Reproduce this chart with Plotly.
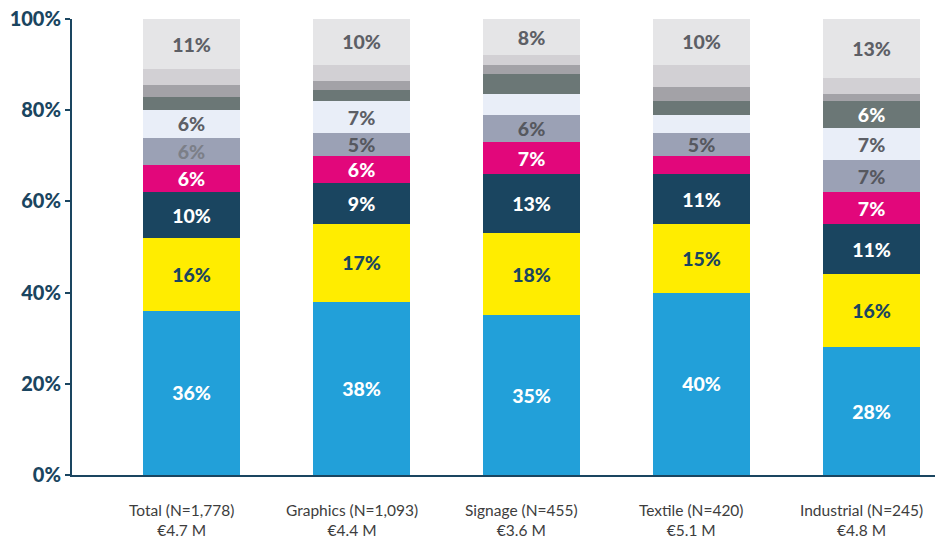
import plotly.graph_objects as go

# Categories (two-line labels under each bar)
categories = ["Total", "Graphics", "Signage", "Textile", "Industrial"]
tick_labels = [
    "Total (N=1,778)<br>€4.7 M",
    "Graphics (N=1,093)<br>€4.4 M",
    "Signage (N=455)<br>€3.6 M",
    "Textile (N=420)<br>€5.1 M",
    "Industrial (N=245)<br>€4.8 M",
]

# Stacked shares in percent, bottom segment first
seg1 = [36, 38, 35, 40, 28]
seg2 = [16, 17, 18, 15, 16]
seg3 = [10, 9, 13, 11, 11]
seg4 = [6, 6, 7, 4, 7]
seg5 = [6, 5, 6, 5, 7]
seg6 = [6, 7, 4.5, 4, 7]
seg7 = [3, 2.5, 4.5, 3, 6]
seg8 = [2.5, 2, 2, 3, 1.5]
seg9 = [3.5, 3.5, 2, 5, 3.5]
seg10 = [11, 10, 8, 10, 13]

# Which segments carry a value label (True = labelled)
lab1 = [True] * 5
lab2 = [True] * 5
lab3 = [True] * 5
lab4 = [True, True, True, False, True]
lab5 = [True] * 5
lab6 = [True, True, False, False, True]
lab7 = [False, False, False, False, True]
lab8 = [False] * 5
lab9 = [False] * 5
lab10 = [True] * 5

series = [seg1, seg2, seg3, seg4, seg5, seg6, seg7, seg8, seg9, seg10]
labelled = [lab1, lab2, lab3, lab4, lab5, lab6, lab7, lab8, lab9, lab10]

fills = ["#22a0d9", "#ffed00", "#1a4560", "#e2077b", "#9ba1b5",
         "#e9eef8", "#6b7776", "#a3a2a7", "#d2d0d4", "#e5e5e7"]
text_colors = [
    ["#ffffff"] * 5,
    ["#1a4560"] * 5,
    ["#ffffff"] * 5,
    ["#ffffff"] * 5,
    ["#7c7f88", "#56585f", "#56585f", "#56585f", "#56585f"],
    ["#5d5f66"] * 5,
    ["#ffffff"] * 5,
    ["#ffffff"] * 5,
    ["#ffffff"] * 5,
    ["#5d5f66"] * 5,
]

NAVY = "#1a4560"
x_pos = list(range(len(categories)))

fig = go.Figure()
for i, (vals, labs) in enumerate(zip(series, labelled)):
    fig.add_trace(go.Bar(
        x=x_pos,
        y=vals,
        name=f"Segment {i + 1}",
        marker=dict(color=fills[i], line=dict(width=0)),
        width=0.57,
        text=[f"{v:.0f}%" if s else "" for v, s in zip(vals, labs)],
        textposition="inside",
        insidetextanchor="middle",
        textangle=0,
        textfont=dict(family="Lato", size=19.5, color=text_colors[i], weight=900),
        hoverinfo="skip",
        showlegend=False,
    ))

# Category captions under the baseline, set slightly left of each bar centre
for xp, lbl in zip(x_pos, tick_labels):
    fig.add_annotation(
        x=xp, y=0, xref="x", yref="y",
        text=lbl,
        showarrow=False,
        xanchor="center", yanchor="top",
        xshift=-10, yshift=-24,
        align="center",
        font=dict(family="Lato", size=15.5, color="#3d3d3d"),
    )

fig.update_layout(
    barmode="stack",
    width=947,
    height=539,
    margin=dict(l=72, r=12, t=19, b=64),
    paper_bgcolor="white",
    plot_bgcolor="white",
    uniformtext=dict(minsize=19, mode="show"),
    font=dict(family="Lato"),
    xaxis=dict(
        range=[-0.703, 4.373],
        tickvals=x_pos,
        showticklabels=False,
        showline=True,
        linecolor=NAVY,
        linewidth=2,
        ticks="",
        showgrid=False,
        zeroline=False,
        automargin=False,
        fixedrange=True,
    ),
    yaxis=dict(
        range=[0, 100],
        tickvals=[0, 20, 40, 60, 80, 100],
        ticktext=["0%", "20%", "40%", "60%", "80%", "100%"],
        showline=True,
        linecolor=NAVY,
        linewidth=2,
        ticks="outside",
        ticklen=5,
        tickwidth=2,
        tickcolor=NAVY,
        showgrid=False,
        zeroline=False,
        automargin=False,
        tickfont=dict(family="Lato", size=20, color=NAVY, weight=900),
        fixedrange=True,
    ),
)

fig.write_html("out.html")
